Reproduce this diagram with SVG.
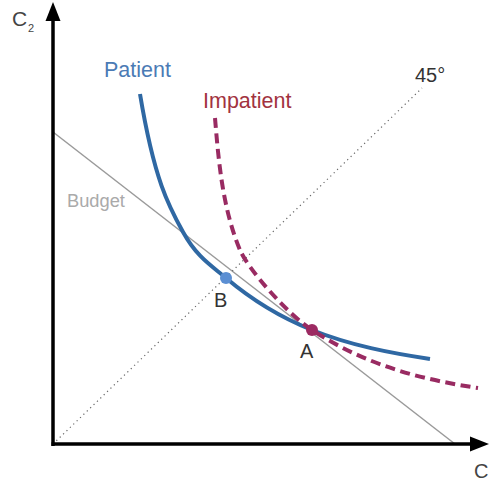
<svg xmlns="http://www.w3.org/2000/svg" width="489" height="486" viewBox="0 0 489 486">
<style>
text{font-family:"Liberation Sans",Arial,sans-serif;}
.lbl{fill:#333;font-size:20px;}
.axis{stroke:#000;stroke-width:3.5;fill:none;}
.curve{fill:none;stroke-width:4;stroke-linecap:butt;}
</style>
<rect width="489" height="486" fill="#fff"/>
<g id="guides">
<line id="budget" x1="53" y1="132" x2="455" y2="444" stroke="#9a9a9a" stroke-width="1.5"/>
<line id="line45" x1="53" y1="444" x2="422" y2="88" stroke="#666" stroke-width="1.2" stroke-dasharray="1.2 3.5"/>
</g>
<g id="axes">
<line class="axis" x1="53" y1="446" x2="53" y2="18"/>
<polygon points="53,2 45.5,21 60.5,21" fill="#000"/>
<line class="axis" x1="51.5" y1="444" x2="474" y2="444"/>
<polygon points="489,444 470,436.5 470,451.5" fill="#000"/>
</g>
<g id="curves">
<path id="patient" class="curve" stroke="#2f68a3" d="M140,94 C154.3,180 168.7,206.2 183,232 C197.3,257.8 211.7,265.8 226,278 C254.7,302.4 283.3,318.5 312,330 C351.3,345.7 390.7,353.1 430,359"/>
<path id="impatient" class="curve" stroke="#992b62" stroke-dasharray="10 5.5" d="M215,118 C218.7,162.8 222.7,208.5 240,250 C247.7,268.5 286.8,313.7 312,330 C367,366 423,379.7 478,388"/>
</g>
<g id="pointB"><circle cx="226" cy="278" r="6" fill="#5b8fd3"/></g>
<g id="pointA"><circle cx="312" cy="330" r="6" fill="#9c2a62"/></g>
<g id="labels">
<text x="12" y="26" font-size="21" fill="#444">C</text>
<text x="28" y="32" font-size="11" fill="#444">2</text>
<text x="474" y="478" font-size="20" fill="#444">C</text>
<text x="104" y="77" font-size="21.5" fill="#4b7bb5">Patient</text>
<text x="203" y="108" font-size="21.5" fill="#a2333f">Impatient</text>
<text x="67" y="207" font-size="18.3" fill="#aaa">Budget</text>
<text x="415" y="82" class="lbl">45°</text>
<text x="214" y="307" class="lbl">B</text>
<text x="300" y="358" class="lbl">A</text>
</g>
</svg>
